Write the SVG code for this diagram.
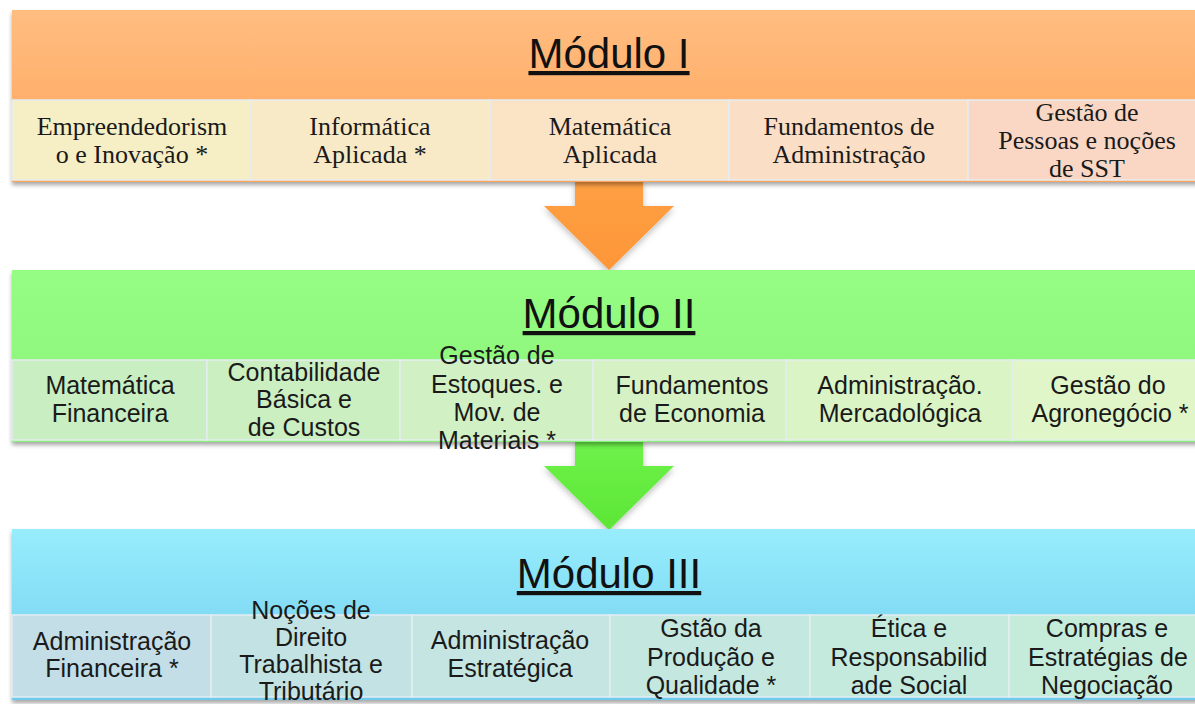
<svg xmlns="http://www.w3.org/2000/svg" width="1195" height="704" viewBox="0 0 1195 704">
  <defs>
    <linearGradient id="gOr" x1="0" y1="0" x2="0" y2="1">
      <stop offset="0" stop-color="#ffbd80"/>
      <stop offset="1" stop-color="#ffa45a"/>
    </linearGradient>
    <linearGradient id="gGr" x1="0" y1="0" x2="0" y2="1">
      <stop offset="0" stop-color="#95fd83"/>
      <stop offset="1" stop-color="#8bf378"/>
    </linearGradient>
    <linearGradient id="gBl" x1="0" y1="0" x2="0" y2="1">
      <stop offset="0" stop-color="#97edfc"/>
      <stop offset="1" stop-color="#6ecbed"/>
    </linearGradient>
    <linearGradient id="gArO" x1="0" y1="0" x2="0" y2="1">
      <stop offset="0" stop-color="#ffa044"/>
      <stop offset="1" stop-color="#fd9638"/>
    </linearGradient>
    <linearGradient id="gArG" x1="0" y1="0" x2="0" y2="1">
      <stop offset="0" stop-color="#6ef24a"/>
      <stop offset="1" stop-color="#5de636"/>
    </linearGradient>
    <filter id="sh" x="-5%" y="-10%" width="110%" height="130%">
      <feDropShadow dx="0" dy="3" stdDeviation="2" flood-color="#000" flood-opacity="0.35"/>
    </filter>
    <filter id="ash" x="-20%" y="-20%" width="140%" height="140%">
      <feDropShadow dx="0" dy="3" stdDeviation="3" flood-color="#000" flood-opacity="0.25"/>
    </filter>
  </defs>
  <style>
    .title { font-family: "Liberation Sans", Arial, sans-serif; font-size: 42px; fill: #111; text-anchor: middle; text-decoration: underline; }
    .serif { font-family: "Liberation Serif", "Times New Roman", serif; font-size: 26px; fill: #1a1a1a; text-anchor: middle; }
    .sans { font-family: "Liberation Sans", Arial, sans-serif; font-size: 25px; fill: #1a1a1a; text-anchor: middle; }
    .cell { stroke: #e4edf2; stroke-width: 1.5; }
  </style>
  <rect width="1195" height="704" fill="#ffffff"/>

  <!-- Connectors (block arrows) -->
  <g id="connectors">
    <path d="M575,180 L643,180 L643,206 L674,206 L609,270 L544,206 L575,206 Z" fill="url(#gArO)" filter="url(#ash)"/>
    <path d="M575,440 L643,440 L643,466 L674,466 L609,530 L544,466 L575,466 Z" fill="url(#gArG)" filter="url(#ash)"/>
  </g>

  <!-- Módulo I -->
  <g id="modulo1">
    <g filter="url(#sh)">
      <rect x="12" y="10" width="1195" height="172" fill="url(#gOr)"/>
    </g>
    <text class="title" x="609" y="68">Módulo I</text>
    <g id="m1c1"><rect class="cell" x="12" y="100" width="238" height="80" fill="#f6efc5"/>
      <text class="serif" x="132" y="135">Empreendedorism</text><text class="serif" x="132" y="163">o e Inovação  *</text></g>
    <g id="m1c2"><rect class="cell" x="250" y="100" width="240" height="80" fill="#f8e9c7"/>
      <text class="serif" x="370" y="135">Informática</text><text class="serif" x="370" y="163">Aplicada  *</text></g>
    <g id="m1c3"><rect class="cell" x="490" y="100" width="239" height="80" fill="#fbe3c6"/>
      <text class="serif" x="610" y="135">Matemática</text><text class="serif" x="610" y="163">Aplicada</text></g>
    <g id="m1c4"><rect class="cell" x="729" y="100" width="239" height="80" fill="#fadec6"/>
      <text class="serif" x="849" y="135">Fundamentos de</text><text class="serif" x="849" y="163">Administração</text></g>
    <g id="m1c5"><rect class="cell" x="968" y="100" width="240" height="80" fill="#f9d7c4"/>
      <text class="serif" x="1087" y="121">Gestão de</text><text class="serif" x="1087" y="149">Pessoas  e noções</text><text class="serif" x="1087" y="177">de SST</text></g>
  </g>

  <!-- Módulo II -->
  <g id="modulo2">
    <g filter="url(#sh)">
      <rect x="12" y="270" width="1195" height="172" fill="url(#gGr)"/>
    </g>
    <text class="title" x="609" y="328">Módulo II</text>
    <g id="m2c1"><rect class="cell" x="12" y="360" width="195" height="80" fill="#c8eec2"/></g>
    <g id="m2c2"><rect class="cell" x="207" y="360" width="193" height="80" fill="#ccefc2"/></g>
    <g id="m2c3"><rect class="cell" x="400" y="360" width="193" height="80" fill="#d1f1c4"/></g>
    <g id="m2c4"><rect class="cell" x="593" y="360" width="193" height="80" fill="#d6f2c5"/></g>
    <g id="m2c5"><rect class="cell" x="786" y="360" width="226" height="80" fill="#dbf4c6"/></g>
    <g id="m2c6"><rect class="cell" x="1012" y="360" width="196" height="80" fill="#e1f6c8"/></g>
    <text class="sans" x="110" y="394">Matemática</text><text class="sans" x="110" y="422">Financeira</text>
    <text class="sans" x="304" y="381">Contabilidade</text><text class="sans" x="304" y="408">Básica e</text><text class="sans" x="304" y="436">de Custos</text>
    <text class="sans" x="497" y="364">Gestão de</text><text class="sans" x="497" y="393">Estoques. e</text><text class="sans" x="497" y="421">Mov. de</text><text class="sans" x="497" y="449">Materiais *</text>
    <text class="sans" x="692" y="394">Fundamentos</text><text class="sans" x="692" y="422">de Economia</text>
    <text class="sans" x="900" y="394">Administração.</text><text class="sans" x="900" y="422">Mercadológica</text>
    <text class="sans" x="1108" y="394">Gestão do</text><text class="sans" x="1110" y="422">Agronegócio *</text>
  </g>

  <!-- Módulo III -->
  <g id="modulo3">
    <g filter="url(#sh)">
      <rect x="12" y="529" width="1195" height="171" fill="url(#gBl)"/>
    </g>
    <text class="title" x="609" y="588">Módulo III</text>
    <g id="m3c1"><rect class="cell" x="12" y="615" width="199" height="82" fill="#c3dee6"/></g>
    <g id="m3c2"><rect class="cell" x="211" y="615" width="201" height="82" fill="#c3e2e3"/></g>
    <g id="m3c3"><rect class="cell" x="412" y="615" width="198" height="82" fill="#c4e5e1"/></g>
    <g id="m3c4"><rect class="cell" x="610" y="615" width="200" height="82" fill="#c4e7df"/></g>
    <g id="m3c5"><rect class="cell" x="810" y="615" width="199" height="82" fill="#c4eadd"/></g>
    <g id="m3c6"><rect class="cell" x="1009" y="615" width="199" height="82" fill="#c5ecdb"/></g>
    <text class="sans" x="112" y="650">Administração</text><text class="sans" x="112" y="677">Financeira *</text>
    <text class="sans" x="311" y="619">Noções de</text><text class="sans" x="311" y="646">Direito</text><text class="sans" x="311" y="673">Trabalhista e</text><text class="sans" x="311" y="700">Tributário</text>
    <text class="sans" x="510" y="649">Administração</text><text class="sans" x="510" y="677">Estratégica</text>
    <text class="sans" x="711" y="637">Gstão da</text><text class="sans" x="711" y="666">Produção e</text><text class="sans" x="711" y="694">Qualidade *</text>
    <text class="sans" x="909" y="637">Ética e</text><text class="sans" x="909" y="666">Responsabilid</text><text class="sans" x="909" y="694">ade Social</text>
    <text class="sans" x="1107" y="637">Compras e</text><text class="sans" x="1108" y="666">Estratégias de</text><text class="sans" x="1107" y="694">Negociação</text>
  </g>
</svg>
